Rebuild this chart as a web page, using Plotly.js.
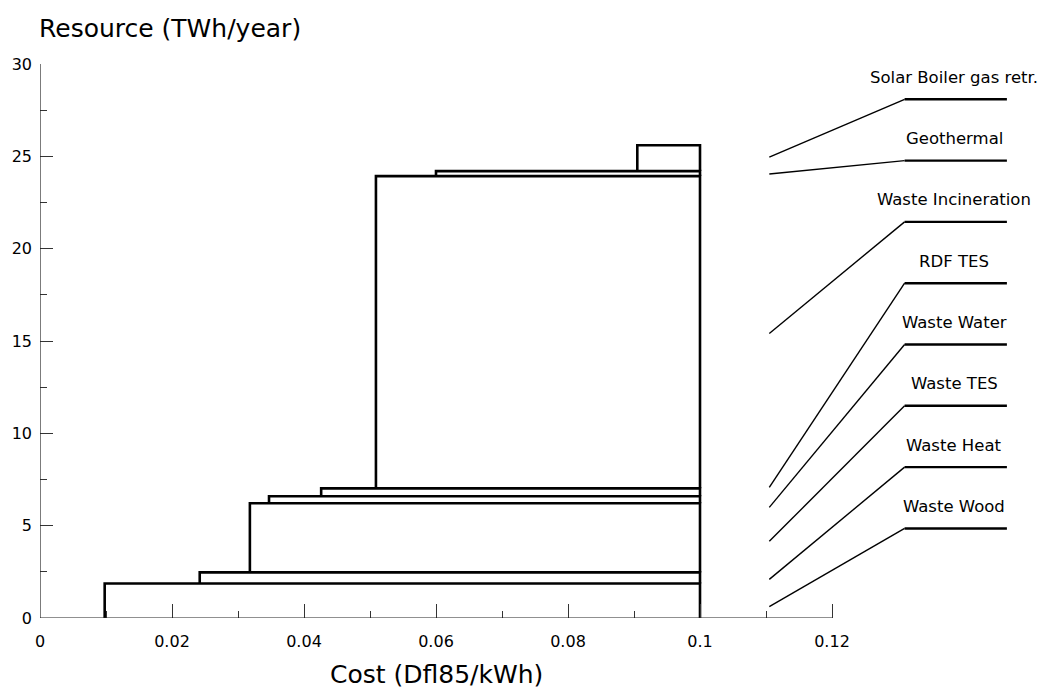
<!DOCTYPE html>
<html>
<head>
<meta charset="utf-8">
<script src="https://cdn.plot.ly/plotly-3.0.1.min.js"></script>
<style>
  html, body { margin: 0; padding: 0; background: #fff; }
  #chart { width: 1053px; height: 696px; }
</style>
</head>
<body>
<div id="chart"></div>
<script>
// Heat resources, ordered by cost (cheapest first)
const resources = ["Waste Wood", "Waste Heat", "Waste TES", "Waste Water",
                   "RDF TES", "Waste Incineration", "Geothermal", "Solar Boiler gas retr."];
// Cost of each resource (Dfl85/kWh)
const costs = [0.0098, 0.0242, 0.0318, 0.0347, 0.0426, 0.0509, 0.0600, 0.0905];
// Upper end of the cost band (Dfl85/kWh)
const maxCosts = [0.1, 0.1, 0.1, 0.1, 0.1, 0.1, 0.1, 0.1];
// Available resource (TWh/year)
const amounts = [1.87, 0.60, 3.74, 0.38, 0.43, 16.91, 0.27, 1.40];

const xTicks = [0, 0.02, 0.04, 0.06, 0.08, 0.1, 0.12];
const yTicks = [0, 5, 10, 15, 20, 25, 30];

// Where each leader line leaves the stack (TWh/year, near cost 0.11)
const leaderFrom = [0.62, 2.09, 4.15, 5.99, 7.07, 15.41, 24.04, 24.96];

const FONT = "DejaVu Sans, Liberation Sans, Arial, sans-serif";
const INK = "#000";

// cumulative lower / upper bounds of each block
const lows = [], highs = [];
let acc = 0;
amounts.forEach(a => { lows.push(acc); acc += a; highs.push(acc); });

const traces = [];
resources.forEach((name, i) => {
  traces.push({
    type: "scatter", mode: "lines", name: name, showlegend: false, hoverinfo: "name",
    x: [costs[i], costs[i], maxCosts[i], maxCosts[i]],
    y: [lows[i], highs[i], highs[i], lows[i]],
    line: { color: INK, width: 2.6 }
  });
});

// leader lines and label rails on the right
const labelBase = 4.85, labelStep = 3.32;
const leadX0 = 0.1105, leadX1 = 0.131, railX1 = 0.1465, textX = 0.1385;
const annotations = [];
resources.forEach((name, i) => {
  const yRail = labelBase + i * labelStep;
  traces.push({
    type: "scatter", mode: "lines", showlegend: false, hoverinfo: "skip",
    x: [leadX0, leadX1], y: [leaderFrom[i], yRail],
    line: { color: INK, width: 1.4 }
  });
  traces.push({
    type: "scatter", mode: "lines", showlegend: false, hoverinfo: "skip",
    x: [leadX1, railX1], y: [yRail, yRail],
    line: { color: INK, width: 2.4 }
  });
  annotations.push({
    x: textX, y: yRail, xref: "x", yref: "y", text: name, showarrow: false,
    xanchor: "center", yanchor: "middle", yshift: 22,
    font: { family: FONT, size: 16.5, color: INK }
  });
});

// axis titles
annotations.push({
  x: 0, y: 1, xref: "paper", yref: "paper", text: "Resource (TWh/year)", showarrow: false,
  xanchor: "left", yanchor: "middle", xshift: -3, yshift: 36,
  font: { family: FONT, size: 25, color: INK }
});
annotations.push({
  x: 0.0601, y: 0, xref: "x", yref: "paper", text: "Cost (Dfl85/kWh)", showarrow: false,
  xanchor: "center", yanchor: "middle", yshift: -56,
  font: { family: FONT, size: 25, color: INK }
});

const layout = {
  width: 1053, height: 696,
  margin: { l: 40, r: 23, t: 64, b: 78 },
  paper_bgcolor: "#fff", plot_bgcolor: "#fff",
  showlegend: false,
  xaxis: {
    range: [0, 0.15], showgrid: false, zeroline: false, showline: false,
    tickvals: xTicks, ticks: "inside", ticklen: 14, tickwidth: 1, tickcolor: "#333",
    ticklabelstandoff: 12,
    tickfont: { family: FONT, size: 16, color: INK },
    minor: { tickvals: [0.01, 0.03, 0.05, 0.07, 0.09, 0.11], ticks: "inside", ticklen: 7,
             tickwidth: 1, tickcolor: "#333", showgrid: false }
  },
  yaxis: {
    range: [0, 30], showgrid: false, zeroline: false, showline: false,
    tickvals: yTicks, ticks: "inside", ticklen: 13, tickwidth: 1, tickcolor: "#333",
    ticklabelstandoff: 7,
    tickfont: { family: FONT, size: 16, color: INK },
    minor: { tickvals: [2.5, 7.5, 12.5, 17.5, 22.5, 27.5], ticks: "inside", ticklen: 7,
             tickwidth: 1, tickcolor: "#333", showgrid: false }
  },
  shapes: [
    { type: "line", xref: "x", yref: "y", x0: 0, x1: xTicks[xTicks.length - 1], y0: 0, y1: 0,
      line: { color: "#222", width: 1.2 } },
    { type: "line", xref: "x", yref: "y", x0: 0, x1: 0, y0: 0, y1: yTicks[yTicks.length - 1],
      line: { color: "#222", width: 1.2 } }
  ],
  annotations: annotations
};

Plotly.newPlot("chart", traces, layout, { displayModeBar: false, staticPlot: true });
</script>
</body>
</html>
